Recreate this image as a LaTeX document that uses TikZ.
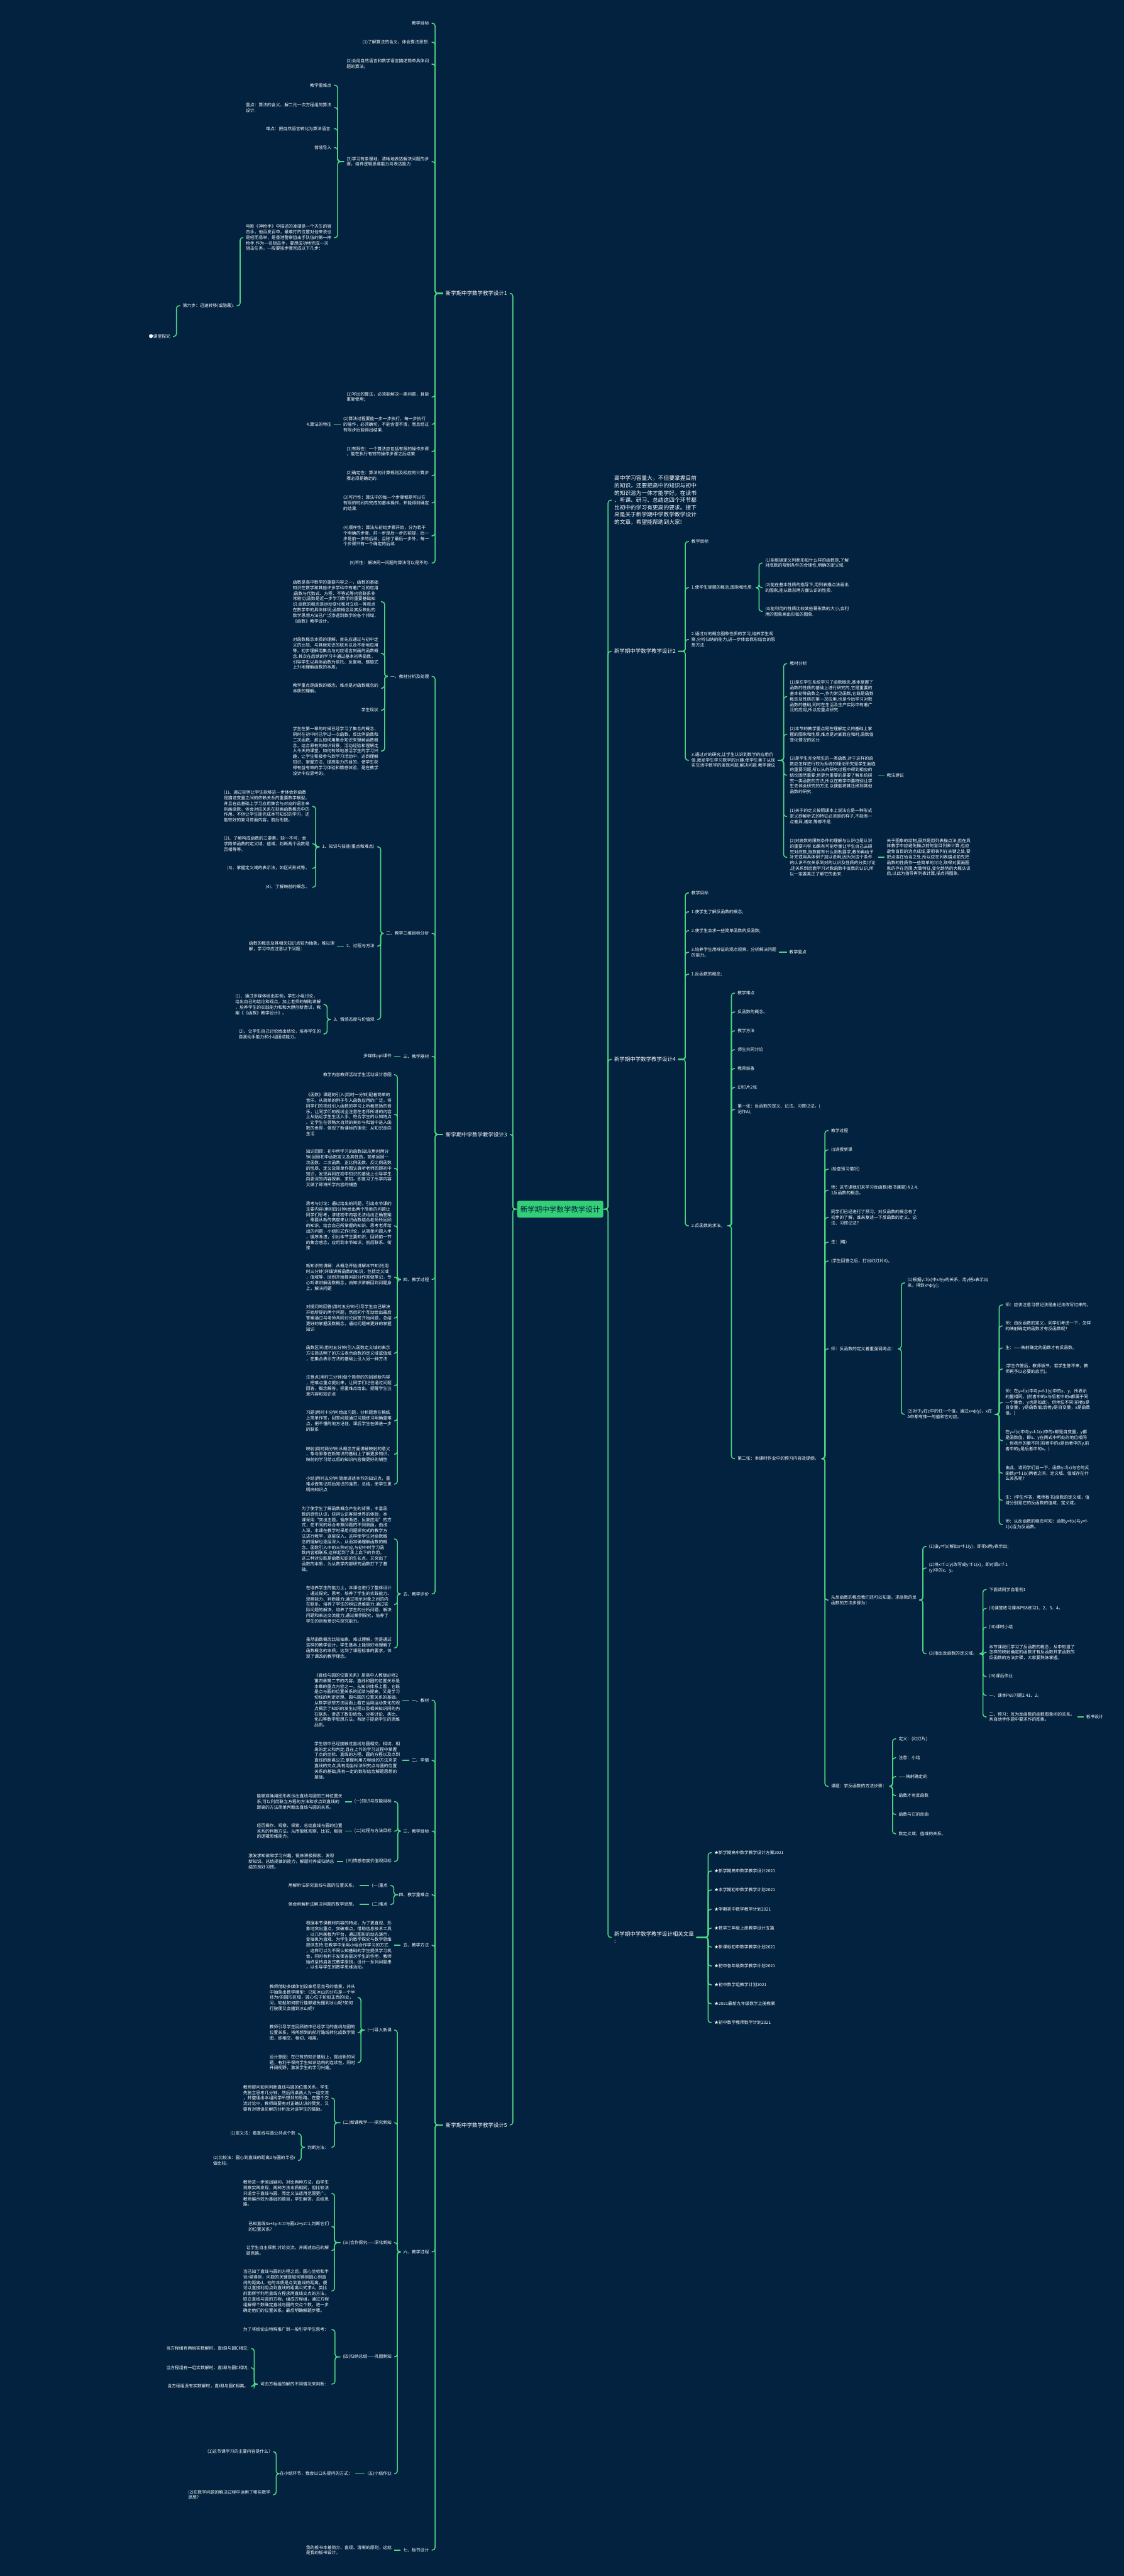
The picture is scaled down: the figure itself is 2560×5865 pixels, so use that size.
\documentclass[tikz,border=0pt]{standalone}
\usepackage{fontspec}
\setmainfont{Noto Sans CJK SC}
\definecolor{bgc}{HTML}{03223F}
\definecolor{linec}{HTML}{4FD584}
\definecolor{rootc}{HTML}{33CF77}
\tikzset{
  conn/.style={draw=linec,line width=0.45pt,rounded corners=1.2pt},
  txt/.style={font=\fontsize{1.95pt}{2.52pt}\selectfont,text=white,align=left,inner sep=0pt,outer xsep=1.2pt,outer ysep=0pt},
  lft/.style={txt,anchor=east},
  rgt/.style={txt,anchor=west},
  lbl/.style={font=\fontsize{2.42pt}{3.1pt}\selectfont},
  para/.style={font=\fontsize{2.5pt}{3.32pt}\selectfont},
}
\newcommand\LCon[3]{\draw[conn] (#1.west) -- (perpendicular cs: horizontal line through={(#1.west)}, vertical line through={(#3,0)}) |- (#2.east);}
\newcommand\RCon[3]{\draw[conn] (#1.east) -- (perpendicular cs: horizontal line through={(#1.east)}, vertical line through={(#3,0)}) |- (#2.west);}
\newcommand\LOne[2]{\draw[conn] (#1.west) -- (#2.east);}
\newcommand\ROne[2]{\draw[conn] (#1.east) -- (#2.west);}
\begin{document}
\begin{tikzpicture}[x=0.2pt,y=-0.2pt]
\fill[bgc] (0,0) rectangle (2560,5865);
\useasboundingbox (0,0) rectangle (2560,5865);

\node[fill=rootc,rounded corners=0.8pt,minimum width=39.2pt,minimum height=7.6pt,inner sep=0pt,text=bgc,font=\fontsize{3.3pt}{4pt}\selectfont] (root) at (1276,2753) {新学期中学数学教学设计};

% ================= LEFT =================
\node[lft,lbl] (b1) at (1161,668) {新学期中学数学教学设计1};
\node[lft,lbl] (b3) at (1161,2583) {新学期中学数学教学设计3};
\node[lft,lbl] (b5) at (1161,4838) {新学期中学数学教学设计5};
\foreach \c in {b1,b3,b5} {\LCon{root}{\c}{1168}}

% ---- branch 1
\node[lft] (a1) at (983,53) {教学目标};
\node[lft] (a2) at (983,96) {(1)了解算法的含义，体会算法思想.};
\node[lft] (a3) at (983,146) {(2)会用自然语言和数学语言描述简单具体问\\题的算法;};
\node[lft] (a4) at (983,368) {(3)学习有条理地、清晰地表达解决问题的步\\骤，培养逻辑思维能力与表达能力};
\node[lft] (a5) at (983,904) {(1)写出的算法，必须能解决一类问题，且能\\重复使用;};
\node[lft] (a6) at (983,966) {(2)算法过程要能一步一步执行，每一步执行\\的操作，必须确切，不能含混不清，而且经过\\有限步后能得出结果.};
\node[lft] (a7) at (983,1028) {(1)有限性：一个算法应包括有限的操作步骤\\，能在执行有穷的操作步骤之后结束.};
\node[lft] (a8) at (983,1083) {(2)确定性：算法的计算规则及相应的计算步\\骤必须是确定的.};
\node[lft] (a9) at (983,1145) {(3)可行性：算法中的每一个步骤都是可以在\\有限的时间内完成的基本操作，并能得到确定\\的结果.};
\node[lft] (a10) at (983,1220) {(4)顺序性：算法从初始步骤开始，分为若干\\个明确的步骤，前一步是后一步的前提，后一\\步是前一步的后续，且除了最后一步外，每一\\个步骤只有一个确定的后续.};
\node[lft] (a11) at (983,1282) {(5)不性：解决同一问题的算法可以是不的.};
\foreach \c in {a1,a2,a3,a4,a5,a6,a7,a8,a9,a10,a11} {\LCon{b1}{\c}{991}}

\node[lft] (a41) at (761,194) {教学重难点};
\node[lft] (a42) at (761,245) {重点：算法的含义、解二元一次方程组的算法\\设计.};
\node[lft] (a43) at (761,293) {难点：把自然语言转化为算法语言.};
\node[lft] (a44) at (761,336) {情境导入};
\node[lft] (a45) at (761,541) {电影《神枪手》中描述的凌靖是一个天生的狙\\击手，他百发百中，最难打的位置对他来说也\\是轻而易举，是香港警察狙击手队伍的第一神\\枪手.作为一名狙击手，要想成功地完成一次\\狙击任务，一般要按步骤完成以下几步：};
\foreach \c in {a41,a42,a43,a44,a45} {\LCon{a4}{\c}{769}}
\node[lft] (a456) at (539,696) {第六步：迅速转移(或隐蔽).};
\LCon{a45}{a456}{547}
\node[lft] (a4561) at (394,766) {●课堂探究};
\LCon{a456}{a4561}{402}

\node[lft] (a61) at (761,966) {4.算法的特征};
\LOne{a6}{a61}

% ---- branch 3
\node[lft] (c1) at (983,1540) {一、教材分析及处理};
\node[lft] (c2) at (983,2125) {二、教学三维目标分析};
\node[lft] (c3) at (983,2405) {三、教学器材};
\node[lft] (c4) at (983,2913) {四、教学过程};
\node[lft] (c5) at (983,3629) {五、教学评价};
\foreach \c in {c1,c2,c3,c4,c5} {\LCon{b3}{\c}{991}}

\node[lft] (c11) at (868,1370) {函数是高中数学的重要内容之一，函数的基础\\知识在数学和其他许多学科中有着广泛的应用\\;函数与代数式、方程、不等式等内容联系非\\常密切;函数是近一步学习数学的重要基础知\\识.函数的概念是运动变化和对立统一等观点\\在数学中的具体体现;函数概念及其反映出的\\数学思想方法已广泛渗透到数学的各个领域，\\《函数》教学设计。};
\node[lft] (c12) at (868,1488) {对函数概念本质的理解，首先应通过与初中定\\义的比较、与其他知识的联系以及不断地应用\\等，初步理解用集合与对应语言刻画的函数概\\念.其次在后续的学习中通过基本初等函数，\\引导学生以具体函数为依托、反复地、螺旋式\\上升地理解函数的本质。};
\node[lft] (c13) at (868,1567) {教学重点是函数的概念，难点是对函数概念的\\本质的理解。};
\node[lft] (c14) at (868,1617) {学生现状};
\node[lft] (c15) at (868,1710) {学生在第一章的时候已经学习了集合的概念，\\同时在初中时已学过一次函数、反比例函数和\\二次函数，那么如何用集合知识来理解函数概\\念，结合原有的知识背景，活动经验和理解走\\入今天的课堂，如何有效地激活学生的学习兴\\趣，让学生积极参与到学习活动中，达到理解\\知识、掌握方法、提高能力的目的，使学生获\\得有益有效的学习体验和情感体验，是在教学\\设计中应思考的。};
\foreach \c in {c11,c12,c13,c14,c15} {\LCon{c1}{\c}{876}}

\node[lft] (c21) at (859,1928) {1、知识与技能(重点和难点)};
\node[lft] (c22) at (859,2154) {2、过程与方法};
\node[lft] (c23) at (859,2321) {3、情感态度与价值观};
\foreach \c in {c21,c22,c23} {\LCon{c2}{\c}{867}}
\node[lft] (c211) at (711,1836) {(1)、通过实例让学生能够进一步体会到函数\\是描述变量之间的依赖关系的重要数学模型。\\并且在此基础上学习应用集合与对应的语言来\\刻画函数，体会对应关系在刻画函数概念中的\\作用。不但让学生能完成本节知识的学习，还\\能较好的复习前面内容，前后衔接。};
\node[lft] (c212) at (711,1921) {(2)、了解构成函数的三要素，缺一不可，会\\求简单函数的定义域、值域、判断两个函数是\\否相等等。};
\node[lft] (c213) at (711,1977) {(3)、掌握定义域的表示法，如区间形式等。};
\node[lft] (c214) at (711,2020) {(4)、了解映射的概念。};
\foreach \c in {c211,c212,c213,c214} {\LCon{c21}{\c}{719}}
\node[lft] (c221) at (768,2154) {函数的概念及其相关知识点较为抽象，难以理\\解，学习中应注意以下问题：};
\LOne{c22}{c221}
\node[lft] (c231) at (737,2287) {(1)、通过多媒体给出实例，学生小组讨论，\\给出自己的结论和观点，加上老师的辅助讲解\\，培养学生的实践能力和和大胆创新意识，教\\案《《函数》教学设计》。};
\node[lft] (c232) at (737,2354) {(2)、让学生自己讨论给出结论，培养学生的\\自我动手能力和小组团结能力。};
\foreach \c in {c231,c232} {\LCon{c23}{\c}{745}}

\node[lft] (c31) at (898,2405) {多媒体ppt课件};
\LOne{c3}{c31}

\node[lft] (c41) at (898,2447) {教学内容教师活动学生活动设计意图};
\node[lft] (c42) at (898,2537) {《函数》课题的引入(用时一分钟)配着简单的\\音乐，从简单的例子引入函数应用的广泛，将\\同学们的视线引入函数的学习上听着悠扬的音\\乐，让同学们的视线全注意在老师所讲的内容\\上从贴近学生生活入手，符合学生的认知特点\\。让学生在领略大自然的美妙与和谐中进入函\\数的世界，体现了新课标的理念：从知识走向\\生活};
\node[lft] (c43) at (898,2660) {知识回顾：初中所学习的函数知识(用时两分\\钟)回顾初中函数定义及其性质，简单回顾一\\次函数、二次函数、正比例函数、反比例函数\\的性质、定义及简单作图认真听老师回顾初中\\知识，发现异同在初中知识的基础上引导学生\\向更深的内容探索、求知。即复习了所学内容\\又做了即将所学内容的铺垫};
\node[lft] (c44) at (898,2791) {思考与讨论：通过给出的问题，引出本节课的\\主要内容(用时四分钟)给出两个简单的问题让\\同学们思考，讲述初中内容无法给出正确答案\\，需要从新的高度来认识函数结合老师所回顾\\的知识，结合自己所掌握的知识，思考老师给\\出的问题，小组形式作讨论，从简单问题入手\\，循序渐进，引出本节主要知识，回顾前一节\\的集合感念，应用到本节知识，前后联系、衔\\接};
\node[lft] (c45) at (898,2908) {新知识的讲解：从概念开始讲解本节知识(用\\时三分钟)详细讲解函数的知识，包括定义域\\，值域等，回到开始提问部分作答做笔记，专\\心听讲讲解函数概念，由知识讲解回到问题身\\上，解决问题};
\node[lft] (c46) at (898,3001) {对提问的回答(用时五分钟)引导学生自己解决\\开始所提的两个问题，然后同个互动给出最后\\答案通过与老师共同讨论回答开始问题，总结\\更好的掌握函数概念，通过问题来更好的掌握\\知识};
\node[lft] (c47) at (898,3081) {函数区间(用时五分钟)引入函数定义域的表示\\方法简洁明了的方法表示函数的定义域或值域\\，在集合表示方法的基础上引入另一种方法};
\node[lft] (c48) at (898,3155) {注意点(用时三分钟)做个简单的的回顾新内容\\，把难点重点提出来，让同学们记住通过问题\\回答，概念解答，把重难点给出，提醒学生注\\意内容和知识点};
\node[lft] (c49) at (898,3235) {习题(用时十分钟)给出习题，分析题意在稿纸\\上简单作答，回答问题通过习题练习明确重难\\点，把不懂的地方记住，课后学生在做进一步\\的联系};
\node[lft] (c410) at (898,3311) {映射(用时两分钟)从概念方面讲解映射的意义\\，象与原象在新知识的基础上了解更多知识，\\映射的学习给以后的知识内容做更好的铺垫};
\node[lft] (c411) at (898,3379) {小结(用时五分钟)简单讲述本节的知识点，重\\难点做笔记前后知识的连贯，总结，使学生更\\明白知识点};
\foreach \c in {c41,c42,c43,c44,c45,c46,c47,c48,c49,c410,c411} {\LCon{c4}{\c}{905}}

\node[lft] (c51) at (898,3504) {为了使学生了解函数概念产生的背景，丰富函\\数的感性认识，获得认识客观世界的体验，本\\课采用“突出主题，循序渐进，反复应用”的方\\式，在不同的场合考察问题的不同侧面，由浅\\入深。本课在教学时采用问题探究式的教学方\\法进行教学，逐层深入，这样使学生对函数概\\念的理解也逐层深入，从而准确理解函数的概\\念。函数引入中的三种对应,与初中时学习函\\数内容相联系,这样起到了承上启下的作用。\\这三种对应既是函数知识的生长点，又突出了\\函数的本质，为从数学内部研究函数打下了基\\础。};
\node[lft] (c52) at (898,3653) {在培养学生的能力上，本课也进行了整体设计\\，通过探究、思考，培养了学生的实践能力、\\观察能力、判断能力;通过揭示对象之间的内\\在联系，培养了学生的辨证思维能力;通过实\\际问题的解决，培养了学生的分析问题、解决\\问题和表达交流能力;通过案例探究，培养了\\学生的创新意识与探究能力。};
\node[lft] (c53) at (898,3752) {虽然函数概念比较抽象，难以理解，但是通过\\这样的教学设计，学生基本上能很好地理解了\\函数概念的本质，达到了课程标准的要求，体\\现了课改的教学理念。};
\foreach \c in {c51,c52,c53} {\LCon{c5}{\c}{905}}

% ---- branch 5
\node[lft] (e1) at (983,3871) {一、教材};
\node[lft] (e2) at (983,4008) {二、学情};
\node[lft] (e3) at (983,4169) {三、教学目标};
\node[lft] (e4) at (983,4314) {四、教学重难点};
\node[lft] (e5) at (983,4429) {五、教学方法};
\node[lft] (e6) at (983,5127) {六、教学过程};
\node[lft] (e7) at (983,5806) {七、板书设计};
\foreach \c in {e1,e2,e3,e4,e5,e6,e7} {\LCon{b5}{\c}{991}}

\node[lft] (e1a) at (917,3871) {《直线与圆的位置关系》是高中人教版必修2\\第四章第二节的内容，直线和圆的位置关系是\\本章的重点内容之一。从知识体系上看，它既\\是点与圆的位置关系的延续与提高，又是学习\\切线的判定定理、圆与圆的位置关系的基础。\\从数学思想方法层面上看它运用运动变化的观\\点揭示了知识的发生过程以及相关知识间的内\\在联系，渗透了数形结合、分类讨论、类比、\\化归等数学思想方法，有助于提高学生的思维\\品质。};
\LOne{e1}{e1a}
\node[lft] (e2a) at (917,4008) {学生初中已经接触过直线与圆相交、相切、相\\离的定义和判定;且在上节的学习过程中掌握\\了点的坐标、直线的方程、圆的方程以及点到\\直线的距离公式;掌握利用方程组的方法来求\\直线的交点;具有用坐标法研究点与圆的位置\\关系的基础;具有一定的数形结合解题思想的\\基础。};
\LOne{e2}{e2a}

\node[lft] (e31) at (898,4102) {(一)知识与技能目标};
\node[lft] (e32) at (898,4169) {(二)过程与方法目标};
\node[lft] (e33) at (898,4238) {(三)情感态度价值观目标};
\foreach \c in {e31,e32,e33} {\LCon{e3}{\c}{906}}
\node[lft] (e31a) at (786,4102) {能够准确用图形表示出直线与圆的三种位置关\\系;可以利用联立方程的方法和求点到直线的\\距离的方法简单判断出直线与圆的关系。};
\LOne{e31}{e31a}
\node[lft] (e32a) at (786,4169) {经历操作、观察、探索、总结直线与圆的位置\\关系的判断方法，从而锻炼观察、比较、概括\\的逻辑思维能力。};
\LOne{e32}{e32a}
\node[lft] (e33a) at (767,4238) {激发求知欲和学习兴趣，锻炼积极探索、发现\\新知识、总结规律的能力，解题时养成归纳总\\结的良好习惯。};
\LOne{e33}{e33a}

\node[lft] (e41) at (889,4293) {(一)重点};
\node[lft] (e42) at (889,4336) {(二)难点};
\foreach \c in {e41,e42} {\LCon{e4}{\c}{897}}
\node[lft] (e41a) at (819,4293) {用解析法研究直线与圆的位置关系。};
\LOne{e41}{e41a}
\node[lft] (e42a) at (819,4336) {体会用解析法解决问题的数学思想。};
\LOne{e42}{e42a}

\node[lft] (e5a) at (898,4429) {根据本节课教材内容的特点，为了更直观、形\\象地突出重点，突破难点，借助信息技术工具\\，以几何画板为平台，通过图形的动态演示，\\变抽象为直观，为学生的数学探究与数学思维\\提供支持.在教学中采用小组合作学习的方式\\，这样可以为不同认知基础的学生提供学习机\\会，同时有利于发挥各层次学生的作用，教师\\始终坚持启发式教学原则，设计一系列问题串\\，以引导学生的数学思维活动。};
\LOne{e5}{e5a}

\node[lft] (e61) at (898,4622) {(一)导入新课};
\node[lft] (e62) at (898,4833) {(二)新课教学——探究新知};
\node[lft] (e63) at (898,5106) {(三)合作探究——深化新知};
\node[lft] (e64) at (898,5366) {(四)归纳总结——巩固新知};
\node[lft] (e65) at (898,5632) {(五)小结作业};
\foreach \c in {e61,e62,e63,e64,e65} {\LCon{e6}{\c}{905}}

\node[lft] (e611) at (815,4548) {教师借助多媒体创设泰坦尼克号的情景，并从\\中抽象出数学模型：已知冰山的分布是一个半\\径为r的圆形区域，圆心位于轮船正西的l处，\\问，轮船如何航行能够避免撞到冰山呢?如何\\行驶便又会撞到冰山呢?};
\node[lft] (e612) at (815,4628) {教师引导学生回顾初中已经学习的直线与圆的\\位置关系，将所想到的航行路线转化成数学简\\图，即相交、相切、相离。};
\node[lft] (e613) at (815,4696) {设计意图：在已有的知识基础上，提出新的问\\题，有利于保持学生知识结构的连续性，同时\\开阔视野，激发学生的学习兴趣。};
\foreach \c in {e611,e612,e613} {\LCon{e61}{\c}{822}}

\node[lft] (e621) at (755,4777) {教师提问如何判断直线与圆的位置关系，学生\\先独立思考几分钟，然后同桌两人为一组交流\\，并整理出本组同学所想到的思路。在整个交\\流讨论中，教师既要有对正确认识的赞赏，又\\要有对错误见解的分析及对该学生的鼓励。};
\node[lft] (e622) at (755,4889) {判断方法：};
\foreach \c in {e621,e622} {\LCon{e62}{\c}{762}}
\node[lft] (e6221) at (679,4858) {(1)定义法：看直线与圆公共点个数};
\node[lft] (e6222) at (679,4919) {(2)比较法：圆心到直线的距离d与圆的半径r\\做比较。};
\foreach \c in {e6221,e6222} {\LCon{e622}{\c}{686}}

\node[lft] (e631) at (755,4994) {教师进一步抛出疑问，对比两种方法，由学生\\观察实践发现，两种方法本质相同，但比较法\\只适合于直线与圆，而定义法适用范围更广。\\教师展示较为基础的题目，学生解答，总结思\\路。};
\node[lft] (e632) at (755,5069) {已知直线3x+4y-5=0与圆x2+y2=1,判断它们\\的位置关系?};
\node[lft] (e633) at (755,5124) {让学生自主探索,讨论交流，并阐述自己的解\\题思路。};
\node[lft] (e634) at (755,5216) {当已知了直线与圆的方程之后，圆心坐标和半\\径r易得到，问题的关键是如何得到圆心到直\\线的距离d，他的本质是点到直线的距离，便\\可以直接利用点到直线的距离公式求d。类比\\前面所学利用直线方程求两直线交点的方法，\\联立直线与圆的方程，组成方程组，通过方程\\组解得个数确定直线与圆的交点个数，进一步\\确定他们的位置关系。最后明确解题步骤。};
\foreach \c in {e631,e632,e633,e634} {\LCon{e63}{\c}{762}}

\node[lft] (e641) at (755,5304) {为了将结论由特殊推广到一般引导学生思考：};
\node[lft] (e642) at (755,5428) {可由方程组的解的不同情况来判断：};
\foreach \c in {e641,e642} {\LCon{e64}{\c}{763}}
\node[lft] (e6421) at (572,5347) {当方程组有两组实数解时，直线l与圆C相交;};
\node[lft] (e6422) at (572,5391) {当方程组有一组实数解时，直线l与圆C相切;};
\node[lft] (e6423) at (572,5433) {当方程组没有实数解时，直线l与圆C相离。};
\foreach \c in {e6421,e6422,e6423} {\LCon{e642}{\c}{579}}

\node[lft] (e651) at (809,5632) {在小结环节，我会以口头提问的方式：};
\LOne{e65}{e651}
\node[lft] (e6511) at (622,5582) {(1)这节课学习的主要内容是什么?};
\node[lft] (e6512) at (622,5680) {(2)在数学问题的解决过程中运用了哪些数学\\思想?};
\foreach \c in {e6511,e6512} {\LCon{e651}{\c}{629}}

\node[lft] (e7a) at (898,5806) {我的板书本着简介、直观、清晰的原则，这就\\是我的板书设计。};
\LOne{e7}{e7a}

% ================= RIGHT =================
\node[rgt,para] (r0) at (1393,1139) {高中学习容量大，不但要掌握目前\\的知识，还要把高中的知识与初中\\的知识溶为一体才能学好。在读书\\、听课、研习、总结这四个环节都\\比初中的学习有更高的要求。接下\\来是关于新学期中学数学教学设计\\的文章，希望能帮助到大家!};
\node[rgt,lbl] (r2) at (1393,1483) {新学期中学数学教学设计2};
\node[rgt,lbl] (r4) at (1393,2412) {新学期中学数学教学设计4};
\node[rgt,lbl] (r6) at (1393,4411) {新学期中学数学教学设计相关文章\\:};
\foreach \c in {r0,r2,r4,r6} {\RCon{root}{\c}{1385}}

% ---- branch 2
\node[rgt] (p1) at (1569,1233) {教学目标};
\node[rgt] (p2) at (1569,1338) {1.使学生掌握的概念,图象和性质.};
\node[rgt] (p3) at (1569,1456) {2.通过对的概念图象性质的学习,培养学生观\\察,分析归纳的能力,进一步体会数形结合的思\\想方法.};
\node[rgt] (p4) at (1569,1731) {3.通过对的研究,让学生认识到数学的应用价\\值,激发学生学习数学的兴趣.使学生善于从现\\实生活中数学的发现问题,解决问题.教学建议};
\foreach \c in {p1,p2,p3,p4} {\RCon{r2}{\c}{1561}}
\node[rgt] (p21) at (1737,1282) {(1)能根据定义判断形如什么样的函数是,了解\\对底数的限制条件的合理性,明确的定义域.};
\node[rgt] (p22) at (1737,1338) {(2)能在基本性质的指导下,用列表描点法画出\\的图象,能从数形两方面认识的性质.};
\node[rgt] (p23) at (1737,1392) {(3)能利用的性质比较某些幂形数的大小,会利\\用的图象画出形如的图象.};
\foreach \c in {p21,p22,p23} {\RCon{p2}{\c}{1729}}
\node[rgt] (p41) at (1793,1511) {教材分析};
\node[rgt] (p42) at (1793,1586) {(1)是在学生系统学习了函数概念,基本掌握了\\函数的性质的基础上进行研究的,它是重要的\\基本初等函数之一,作为常见函数,它既是函数\\概念及性质的第一次应用,也是今后学习对数\\函数的基础,同时在生活及生产实际中有着广\\泛的应用,所以应重点研究.};
\node[rgt] (p43) at (1793,1672) {(2)本节的教学重点是在理解定义的基础上掌\\握的图象和性质,难点是对底数在和时,函数值\\变化情况的区分.};
\node[rgt] (p44) at (1793,1765) {(3)是学生完全陌生的一类函数,对于这样的函\\数应怎样进行较为系统的理论研究是学生面临\\的重要问题,所以从的研究过程中得到相应的\\结论固然重要,但更为重要的是要了解系统研\\究一类函数的方法,所以在教学中要特别让学\\生去体会研究的方法,以便能将其迁移到其他\\函数的研究.};
\node[rgt] (p45) at (1793,1859) {(1)关于的定义按照课本上说法它是一种形式\\定义即解析式的特征必须是的样子,不能有一\\点差异,诸如,等都不是.};
\node[rgt] (p46) at (1793,1952) {(2)对底数的限制条件的理解与认识也是认识\\的重要内容.如果有可能尽量让学生自己去研\\究对底数,指数都有什么限制要求,教师再给予\\补充或用具体例子加以说明,因为对这个条件\\的认识不仅关系到对的认识及性质的分类讨论\\,还关系到后面学习对数函数中底数的认识,所\\以一定要真正了解它的由来.};
\foreach \c in {p41,p42,p43,p44,p45,p46} {\RCon{p4}{\c}{1785}}
\node[rgt] (p441) at (2014,1765) {教法建议};
\ROne{p44}{p441}
\node[rgt] (p461) at (2014,1952) {关于图象的绘制,虽然是用列表描点法,但在具\\体教学中应避免描点前的盲目列表计算,也应\\避免盲目的连点成线,要把表列在关键之处,要\\把点连在恰当之处,所以应在列表描点前先把\\函数的性质作一些简单的讨论,取得对要画图\\象的存在范围,大致特征,变化趋势的大概认识\\后,以此为指导再列表计算,描点得图象.};
\ROne{p46}{p461}

% ---- branch 4
\node[rgt] (q1) at (1569,2033) {教学目标};
\node[rgt] (q2) at (1569,2076) {1.使学生了解反函数的概念;};
\node[rgt] (q3) at (1569,2119) {2.使学生会求一些简单函数的反函数;};
\node[rgt] (q4) at (1569,2168) {3.培养学生用辩证的观点观察、分析解决问题\\的能力。};
\node[rgt] (q5) at (1569,2218) {1.反函数的概念;};
\node[rgt] (q6) at (1569,2791) {2.反函数的求法。};
\foreach \c in {q1,q2,q3,q4,q5,q6} {\RCon{r4}{\c}{1561}}
\node[rgt] (q41) at (1792,2168) {教学重点};
\ROne{q4}{q41}
\node[rgt] (q61) at (1674,2261) {教学难点};
\node[rgt] (q62) at (1674,2304) {反函数的概念。};
\node[rgt] (q63) at (1674,2347) {教学方法};
\node[rgt] (q64) at (1674,2390) {师生共同讨论};
\node[rgt] (q65) at (1674,2433) {教具装备};
\node[rgt] (q66) at (1674,2476) {幻灯片2张};
\node[rgt] (q67) at (1674,2526) {第一张：反函数的定义、记法、习惯记法。(\\记作A);};
\node[rgt] (q68) at (1674,3321) {第二张：本课时作业中的预习内容及提纲。};
\foreach \c in {q61,q62,q63,q64,q65,q66,q67,q68} {\RCon{q6}{\c}{1666}}

\node[rgt] (g1) at (1887,2574) {教学过程};
\node[rgt] (g2) at (1887,2618) {(I)讲授新课};
\node[rgt] (g3) at (1887,2662) {(检查预习情况)};
\node[rgt] (g4) at (1887,2710) {师：这节课我们来学习反函数(板书课题)§2.4.\\1反函数的概念。};
\node[rgt] (g5) at (1887,2772) {同学们已经进行了预习，对反函数的概念有了\\初步的了解，谁来复述一下反函数的定义、记\\法、习惯记法?};
\node[rgt] (g6) at (1887,2828) {生：(略)};
\node[rgt] (g7) at (1887,2871) {(学生回答之后，打出幻灯片A)。};
\node[rgt] (g8) at (1887,3071) {师：反函数的定义着重强调两点：};
\node[rgt] (g9) at (1887,3643) {从反函数的概念我们还可以知道，求函数的反\\函数的方法步骤为：};
\node[rgt] (g10) at (1887,4067) {课题：求反函数的方法步骤：};
\foreach \c in {g1,g2,g3,g4,g5,g6,g7,g8,g9,g10} {\RCon{q68}{\c}{1879}}

\node[rgt] (g81) at (2061,2921) {(1)根据y=f(x)中x与y的关系，用y把x表示出\\来，得到x=φ(y);};
\node[rgt] (g82) at (2061,3220) {(2)对于y在c中的任一个值，通过x=φ(y)，x在\\A中都有惟一的值和它对应。};
\foreach \c in {g81,g82} {\RCon{g8}{\c}{2053}}
\node[rgt] (h1) at (2284,2971) {师：应该注意习惯记法是由记法改写过来的。};
\node[rgt] (h2) at (2284,3019) {师：由反函数的定义，同学们考虑一下，怎样\\的映射确定的函数才有反函数呢?};
\node[rgt] (h3) at (2284,3069) {生：——映射确定的函数才有反函数。};
\node[rgt] (h4) at (2284,3117) {(学生作答后，教师板书，若学生答不来，教\\师再予以必要的启示)。};
\node[rgt] (h5) at (2284,3193) {师：在y=f(x)中与y=f-1(y)中的x、y，所表示\\的量相同。(前者中的x与后者中的x都属于同\\一个集合，y也是如此)，但地位不同(前者x是\\自变量，y是函数值;后者y是自变量，x是函数\\值。)};
\node[rgt] (h6) at (2284,3280) {在y=f(x)中与y=f-1(x)中的x都是自变量，y都\\是函数值，即x、y在两式中所处的地位相同\\，但表示的量不同(前者中的x是后者中的y,前\\者中的y是后者中的x。)};
\node[rgt] (h7) at (2284,3354) {由此，请同学们谈一下，函数y=f(x)与它的反\\函数y=f-1(x)两者之间，定义域、值域存在什\\么关系呢?};
\node[rgt] (h8) at (2284,3416) {生：(学生作答，教师板书)函数的定义域，值\\域分别是它的反函数的值域、定义域。};
\node[rgt] (h9) at (2284,3471) {师：从反函数的概念可知：函数y=f(x)与y=f-\\1(x)互为反函数。};
\foreach \c in {h1,h2,h3,h4,h5,h6,h7,h8,h9} {\RCon{g82}{\c}{2276}}

\node[rgt] (g91) at (2110,3521) {(1)由y=f(x)解出x=f-1(y)，即把x用y表示出;};
\node[rgt] (g92) at (2110,3570) {(2)将x=f-1(y)改写成y=f-1(x)，即对调x=f-1\\(y)中的x、y。};
\node[rgt] (g93) at (2110,3765) {(3)指出反函数的定义域。};
\foreach \c in {g91,g92,g93} {\RCon{g9}{\c}{2102}}
\node[rgt] (k1) at (2247,3619) {下面请同学自看例1};
\node[rgt] (k2) at (2247,3662) {(II)课堂练习课本P68练习1、2、3、4。};
\node[rgt] (k3) at (2247,3705) {(III)课时小结};
\node[rgt] (k4) at (2247,3762) {本节课我们学习了反函数的概念，从中知道了\\怎样的映射确定的函数才有反函数并求函数的\\反函数的方法步骤，大家要熟练掌握。};
\node[rgt] (k5) at (2247,3817) {(IV)课后作业};
\node[rgt] (k6) at (2247,3860) {一、课本P69习题2.41、2。};
\node[rgt] (k7) at (2247,3909) {二、预习：互为反函数的函数图象间的关系。\\亲自动手作题中要求作的图象。};
\foreach \c in {k1,k2,k3,k4,k5,k6,k7} {\RCon{g93}{\c}{2239}}
\node[rgt] (k71) at (2468,3909) {板书设计};
\ROne{k7}{k71}

\node[rgt] (m1) at (2041,3959) {定义：(幻灯片)};
\node[rgt] (m2) at (2041,4002) {注意：小结};
\node[rgt] (m3) at (2041,4045) {——映射确定的};
\node[rgt] (m4) at (2041,4088) {函数才有反函数};
\node[rgt] (m5) at (2041,4131) {函数与它的反函};
\node[rgt] (m6) at (2041,4175) {数定义域、值域的关系。};
\foreach \c in {m1,m2,m3,m4,m5,m6} {\RCon{g10}{\c}{2033}}

% ---- related articles
\node[rgt] (s1) at (1621,4218) {★新学期高中数学教学设计方案2021};
\node[rgt] (s2) at (1621,4260) {★新学期高中数学教学设计2021};
\node[rgt] (s3) at (1621,4303) {★本学期初中数学教学计划2021};
\node[rgt] (s4) at (1621,4347) {★学期初中数学教学计划2021};
\node[rgt] (s5) at (1621,4390) {★数学三年级上册教学设计五篇};
\node[rgt] (s6) at (1621,4433) {★新课标初中数学教学计划2021};
\node[rgt] (s7) at (1621,4476) {★初中各年级数学教学计划2021};
\node[rgt] (s8) at (1621,4519) {★初中数学组教学计划2021};
\node[rgt] (s9) at (1621,4562) {★2021最新九年级数学上册教案};
\node[rgt] (s10) at (1621,4605) {★初中数学教师数学计划2021};
\foreach \c in {s1,s2,s3,s4,s5,s6,s7,s8,s9,s10} {\RCon{r6}{\c}{1613}}
\end{tikzpicture}
\end{document}
